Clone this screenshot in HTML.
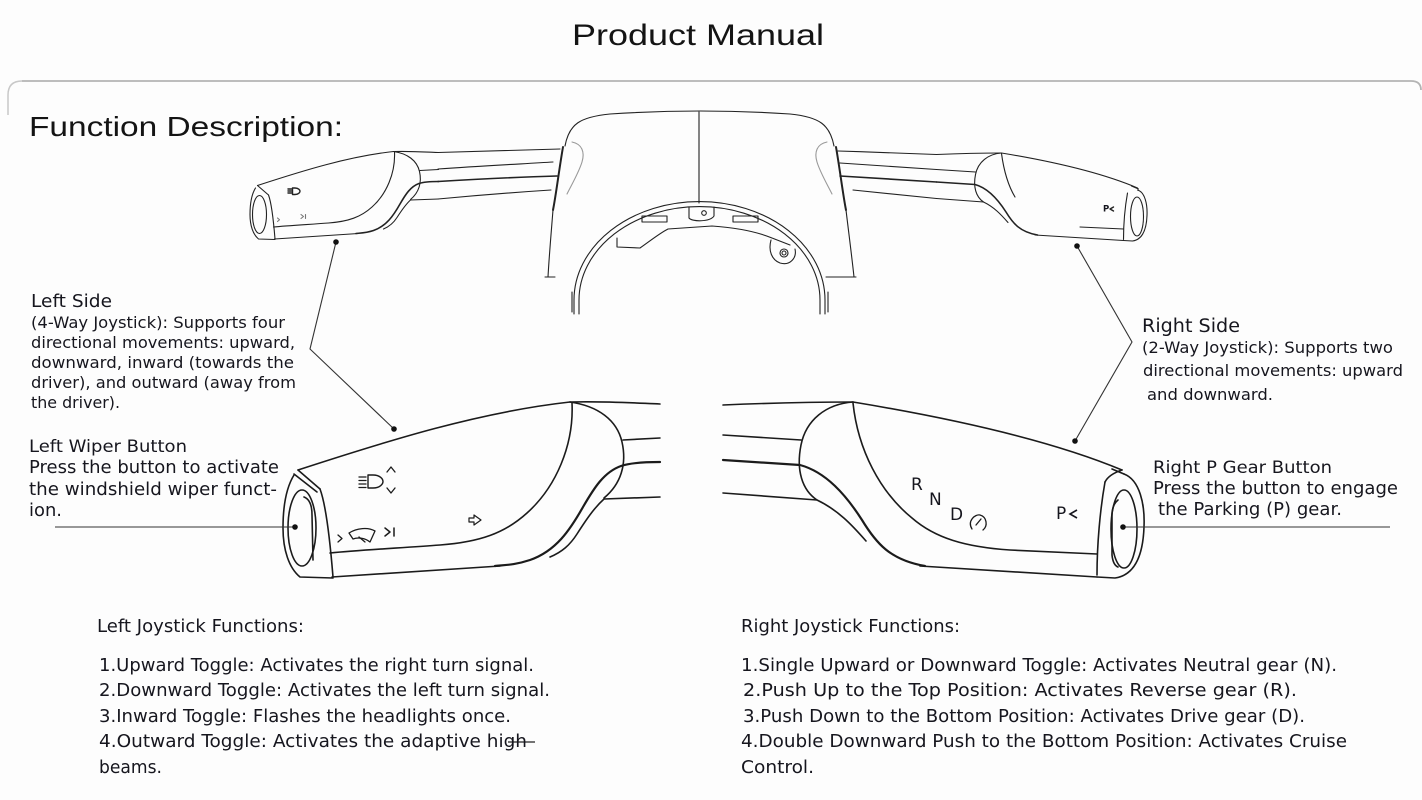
<!DOCTYPE html>
<html><head><meta charset="utf-8">
<style>
html,body{margin:0;padding:0;background:#fdfdfd;}
svg{display:block}
.t{font-family:"DejaVu Sans",sans-serif;fill:#16161e}
.h{font-family:"Liberation Sans",sans-serif;fill:#141414}
</style></head><body>
<svg width="1422" height="800" viewBox="0 0 1422 800" xmlns="http://www.w3.org/2000/svg">
<rect width="1422" height="800" fill="#fdfdfd"/>

<!-- Title -->
<text class="h" x="572" y="45" font-size="30" textLength="252" lengthAdjust="spacingAndGlyphs">Product Manual</text>

<!-- panel border -->
<path d="M22,81 L1411,81 Q1421,81 1421,90" fill="none" stroke="#b4b4b4" stroke-width="1.8"/>
<path d="M8,115 L8,95 Q8,81 22,81" fill="none" stroke="#c8c8c8" stroke-width="1.5"/>

<text class="h" x="29" y="136" font-size="28" textLength="314" lengthAdjust="spacingAndGlyphs">Function Description:</text>

<!-- ============ SHROUD ============ -->
<g fill="none" stroke="#222" stroke-width="1.1" stroke-linecap="round" stroke-linejoin="round">
  <path d="M565,146 C569,124 580,117 610,114 Q700,108 790,114 C820,117 830,125 834,146"/>
  <path d="M563,147 C559,170 556,195 553,210" stroke-width="2"/>
  <path d="M553,210 C551,235 549,258 548,277"/>
  <path d="M545,277 L555,277"/>
  <path d="M836,147 C840,170 843,195 846,210" stroke-width="2"/>
  <path d="M846,210 C849,235 852,258 854,277"/>
  <path d="M826,277 L856,277"/>
  <path d="M572,142 C582,144 585,152 582,162 C579,172 572,184 567,194" stroke="#999"/>
  <path d="M827,142 C817,144 814,152 817,162 C820,172 827,184 832,194" stroke="#999"/>
  <path d="M699,112 L699,203"/>
  <path d="M574,314 L574,300 A125,98 0 0 1 825,300 L825,314"/>
  <path d="M579,314 L579,300 A120,93 0 0 1 820,300 L820,314"/>
  <path d="M572,292 L572,312 M828,292 L828,312"/>
  <rect x="642" y="216" width="25" height="6"/>
  <rect x="733" y="216" width="25" height="6"/>
  <path d="M689,207 L689,218 C692,222 710,222 714,216 L714,207"/>
  <circle cx="704" cy="213" r="2.3"/>
  <path d="M617,238 L617,247 L640,248 C650,241 660,233 668,229 L712,226 C740,228 760,233 772,238 L790,245"/>
  <path d="M771,240 C768,251 772,260 780,263 C790,266 797,258 795,249"/>
  <circle cx="784" cy="253" r="4"/>
  <circle cx="784" cy="253" r="2"/>
</g>

<!-- ============ BOTTOM LEFT STALK ============ -->
<g>
<g fill="none" stroke="#1b1b1b" stroke-width="1.6" stroke-linecap="round" stroke-linejoin="round">
  <path d="M298,470 C390,440 480,412 570,402"/>
  <path d="M570,402 C605,401 635,403 660,404"/>
  <path d="M570,402 C598,406 617,420 622,442 C627,464 621,484 604,498"/>
  <path d="M623,440 L660,438"/>
  <path stroke-width="2.2" d="M660,462 C645,462 630,463 621,466 C604,472 594,488 583,507 C570,530 556,551 530,560 C515,565 505,565 495,566"/>
  <path d="M660,497 L604,499 C594,508 586,520 577,534 C570,545 562,552 550,557"/>
  <path d="M572,403 C574,445 556,487 527,513 C505,533 480,542 440,545 C400,548 360,550 330,553"/>
  <path d="M332,577 C400,573 450,569 500,566"/>
  <path d="M298,470 L320,489"/>
  <path d="M294,474 L317,492"/>
  <path d="M320,489 C326,505 330,540 333,577"/>
  <path d="M294,475 C286,488 283,508 283,528 C283,550 289,568 300,577 L333,578"/>
  <ellipse cx="302" cy="528" rx="14" ry="38"/>
  <path d="M304,497 Q312,500 312,515 L313,560"/>
  <!-- headlight icon -->
  <path d="M359,477 L366,477 M359,480.5 L366,480.5 M359,484 L366,484 M359,487.5 L366,487.5" stroke-width="1.3"/>
  <path d="M368,475 L373,475 C380,475 383,479 383,481.5 C383,484 380,488 373,488 L368,488 Z" stroke-width="1.4"/>
  <path d="M387,472 L391,467 L395,472" stroke-width="1.3"/>
  <path d="M387,488 L391,493 L395,488" stroke-width="1.3"/>
  <!-- wiper icons -->
  <path d="M338,535 L342,538.5 L338,542" stroke-width="1.3"/>
  <path d="M349,533 C357,528 368,527 375,531 L370,542 C365,538 358,537 353,539 Z" stroke-width="1.3"/>
  <path d="M359,537 L365,542" stroke-width="1.3"/>
  <path d="M385,528 L390,532 L385,536 M394,528 L394,536" stroke-width="1.5"/>
  <path d="M469,518 L474,518 L474,515 L481,520 L474,525 L474,522 L469,522 Z" stroke-width="1.2"/>
</g>
</g>

<!-- ============ BOTTOM RIGHT STALK ============ -->
<g>
<g fill="none" stroke="#1b1b1b" stroke-width="1.6" stroke-linecap="round" stroke-linejoin="round">
  <path d="M723,405 C770,403 815,402 853,402"/>
  <path d="M853,402 C950,418 1050,440 1122,470"/>
  <path d="M853,402 C826,404 806,420 801,445 C796,470 802,490 817,500"/>
  <path d="M723,435 L801,440"/>
  <path stroke-width="2.2" d="M723,460 L800,465 C826,472 846,495 862,520 C876,543 890,560 925,566"/>
  <path d="M723,493 L817,500 C838,510 852,525 866,541"/>
  <path d="M853,403 C858,450 880,492 912,518 C935,538 965,547 1010,550 L1097,554"/>
  <path d="M920,566 C980,570 1040,574 1097,577"/>
  <path d="M1112,469 L1124,474"/>
  <path d="M1122,470 C1116,472 1108,476 1105,482"/>
  <path d="M1105,482 C1100,510 1097,545 1097,575"/>
  <path d="M1124,474 C1140,480 1145,505 1144,527 C1143,555 1135,575 1115,578 L1097,577"/>
  <ellipse cx="1124" cy="529" rx="13" ry="39"/>
  <path d="M1118,500 Q1112,505 1112,515 L1112,555 Q1113,565 1118,567"/>
  <path d="M972,529 C967,521 975,514 980,515 C987,517 988,526 983,530" stroke-width="1.3"/>
  <path d="M976,525 L981,519" stroke-width="1.3"/>
</g>
<g class="t" font-size="17">
  <text x="911" y="490">R</text>
  <text x="929" y="505">N</text>
  <text x="950" y="520">D</text>
  <text x="1056" y="519">P</text>
</g>
<path d="M1077,510 L1070,514 L1077,518" fill="none" stroke="#16161e" stroke-width="1.6"/>
</g>

<!-- ============ TOP LEFT STALK (scaled) ============ -->
<g transform="translate(108.5,-49.5) scale(0.5)">
<g fill="none" stroke="#222" stroke-width="1.1" stroke-linecap="round" stroke-linejoin="round">
  <path vector-effect="non-scaling-stroke" d="M298,470 C390,440 480,412 570,402"/>
  <path vector-effect="non-scaling-stroke" d="M570,402 C605,401 635,403 660,404"/>
  <path vector-effect="non-scaling-stroke" d="M570,402 C598,406 617,420 622,442 C627,464 621,484 604,498"/>
  <path vector-effect="non-scaling-stroke" d="M623,440 L660,438"/>
  <path vector-effect="non-scaling-stroke" stroke-width="1.6" d="M660,462 C645,462 630,463 621,466 C604,472 594,488 583,507 C570,530 556,551 530,560 C515,565 505,565 495,566"/>
  <path vector-effect="non-scaling-stroke" d="M660,497 L604,499 C594,508 586,520 577,534 C570,545 562,552 550,557"/>
  <path vector-effect="non-scaling-stroke" d="M572,403 C574,445 556,487 527,513 C505,533 480,542 440,545 C400,548 360,550 330,553"/>
  <path vector-effect="non-scaling-stroke" d="M332,577 C400,573 450,569 500,566"/>
  <path vector-effect="non-scaling-stroke" d="M298,470 L320,489"/>
  <path vector-effect="non-scaling-stroke" d="M320,489 C326,505 330,540 333,577"/>
  <path vector-effect="non-scaling-stroke" d="M294,475 C286,488 283,508 283,528 C283,550 289,568 300,577 L333,578"/>
  <ellipse vector-effect="non-scaling-stroke" cx="302" cy="528" rx="14" ry="38"/>
  <path vector-effect="non-scaling-stroke" d="M368,475 L373,475 C380,475 383,479 383,481.5 C383,484 380,488 373,488 L368,488 Z" stroke-width="1.4"/>
  <path vector-effect="non-scaling-stroke" d="M359,477 L366,477 M359,481 L366,481 M359,485 L366,485" stroke-width="1.4"/>
  <path vector-effect="non-scaling-stroke" d="M338,535 L342,538.5 L338,542 M385,528 L390,532 L385,536 M394,528 L394,536" stroke="#777"/>
</g>
</g>
<g fill="none" stroke="#222" stroke-width="1.1" stroke-linecap="round">
  <path d="M438,152.5 C480,151 520,150 560,149"/>
  <path d="M438,169 C480,166 520,164 553,162"/>
  <path d="M438,181.5 C480,179 520,177 557,176" stroke-width="1.6"/>
  <path d="M438,199 C480,195 520,192 551,190"/>
</g>

<!-- ============ TOP RIGHT STALK (scaled) ============ -->
<g transform="translate(575,-48) scale(0.5)">
<g fill="none" stroke="#222" stroke-width="1.1" stroke-linecap="round" stroke-linejoin="round">
  <path vector-effect="non-scaling-stroke" d="M723,405 C770,403 815,402 853,402"/>
  <path vector-effect="non-scaling-stroke" d="M853,402 C950,418 1050,440 1125,472"/>
  <path vector-effect="non-scaling-stroke" d="M853,402 C826,404 806,420 801,445 C796,470 802,490 817,500"/>
  <path vector-effect="non-scaling-stroke" d="M723,435 L801,440"/>
  <path vector-effect="non-scaling-stroke" stroke-width="1.6" d="M723,460 L800,465 C826,472 846,495 862,520 C876,543 890,560 925,566"/>
  <path vector-effect="non-scaling-stroke" d="M723,493 L817,500 C838,510 852,525 866,541"/>
  <path vector-effect="non-scaling-stroke" d="M853,403 C858,440 868,470 880,490"/>
  <path vector-effect="non-scaling-stroke" d="M1010,550 L1097,554"/>
  <path vector-effect="non-scaling-stroke" d="M920,566 C980,570 1040,574 1097,577"/>
  <path vector-effect="non-scaling-stroke" d="M1113,468 L1127,474"/>
  <path vector-effect="non-scaling-stroke" d="M1105,482 C1100,510 1097,545 1097,575"/>
  <path vector-effect="non-scaling-stroke" d="M1125,476 C1140,480 1145,505 1144,527 C1143,555 1135,575 1115,578 L1097,577"/>
  <ellipse vector-effect="non-scaling-stroke" cx="1124" cy="529" rx="13" ry="39"/>
  <path vector-effect="non-scaling-stroke" d="M1077,510 L1070,514 L1077,518" stroke-width="1.4"/>
</g>
<text class="t" x="1056" y="519" font-size="17" font-weight="bold">P</text>
</g>
<g fill="none" stroke="#222" stroke-width="1.1" stroke-linecap="round">
  <path d="M936.5,154.5 C900,153 870,152 838,151"/>
  <path d="M936.5,169.5 C900,167 870,165 840,163"/>
  <path d="M936.5,182 C900,180 870,178 840,176" stroke-width="1.6"/>
  <path d="M936.5,198.5 C900,195 875,192 853,190"/>
</g>

<!-- ============ CONNECTORS ============ -->
<g fill="none" stroke="#333" stroke-width="1.1">
  <path d="M336,242 L310,349 L394,429"/>
  <path d="M55,527 L295,527"/>
  <path d="M1077,246 L1132,342 L1075,441"/>
  <path d="M1123,527 L1390,527"/>
  <path d="M508,742 L535,742" stroke="#222" stroke-width="1.2"/>
</g>
<g fill="#111">
  <circle cx="336" cy="242" r="2.8"/>
  <circle cx="394" cy="429" r="2.8"/>
  <circle cx="295" cy="527" r="2.8"/>
  <circle cx="1077" cy="246" r="2.8"/>
  <circle cx="1075" cy="441" r="2.8"/>
  <circle cx="1123" cy="527" r="2.8"/>
</g>

<!-- ============ SIDE TEXT ============ -->
<g class="t">
  <text x="31" y="307" font-size="18" textLength="81" lengthAdjust="spacingAndGlyphs">Left Side</text>
  <text x="31" y="328" font-size="16" textLength="254" lengthAdjust="spacingAndGlyphs">(4-Way Joystick): Supports four</text>
  <text x="31" y="348" font-size="16" textLength="264" lengthAdjust="spacingAndGlyphs">directional movements: upward,</text>
  <text x="31" y="368" font-size="16" textLength="263" lengthAdjust="spacingAndGlyphs">downward, inward (towards the</text>
  <text x="31" y="388" font-size="16" textLength="265" lengthAdjust="spacingAndGlyphs">driver), and outward (away from</text>
  <text x="31" y="408" font-size="16" textLength="89" lengthAdjust="spacingAndGlyphs">the driver).</text>

  <text x="29" y="452" font-size="17" textLength="158" lengthAdjust="spacingAndGlyphs">Left Wiper Button</text>
  <text x="29" y="473" font-size="17.5" textLength="250" lengthAdjust="spacingAndGlyphs">Press the button to activate</text>
  <text x="29" y="495" font-size="17.5" textLength="248" lengthAdjust="spacingAndGlyphs">the windshield wiper funct-</text>
  <text x="29" y="516" font-size="17.5" textLength="33" lengthAdjust="spacingAndGlyphs">ion.</text>

  <text x="1142" y="332" font-size="18.5" textLength="98" lengthAdjust="spacingAndGlyphs">Right Side</text>
  <text x="1142" y="353" font-size="16" textLength="251" lengthAdjust="spacingAndGlyphs">(2-Way Joystick): Supports two</text>
  <text x="1143" y="376" font-size="16" textLength="260" lengthAdjust="spacingAndGlyphs">directional movements: upward</text>
  <text x="1147" y="400" font-size="16" textLength="126" lengthAdjust="spacingAndGlyphs">and downward.</text>

  <text x="1153" y="473" font-size="17" textLength="179" lengthAdjust="spacingAndGlyphs">Right P Gear Button</text>
  <text x="1153" y="494" font-size="17.5" textLength="245" lengthAdjust="spacingAndGlyphs">Press the button to engage</text>
  <text x="1158" y="515" font-size="17.5" textLength="184" lengthAdjust="spacingAndGlyphs">the Parking (P) gear.</text>
</g>

<!-- ============ BOTTOM LISTS ============ -->
<g class="t" font-size="17.5">
  <text x="97" y="632" textLength="207" lengthAdjust="spacingAndGlyphs">Left Joystick Functions:</text>
  <text x="99" y="671" textLength="435" lengthAdjust="spacingAndGlyphs">1.Upward Toggle: Activates the right turn signal.</text>
  <text x="99" y="696" textLength="451" lengthAdjust="spacingAndGlyphs">2.Downward Toggle: Activates the left turn signal.</text>
  <text x="99" y="722" textLength="412" lengthAdjust="spacingAndGlyphs">3.Inward Toggle: Flashes the headlights once.</text>
  <text x="99" y="747" textLength="428" lengthAdjust="spacingAndGlyphs">4.Outward Toggle: Activates the adaptive high</text>
  <text x="99" y="773" textLength="63" lengthAdjust="spacingAndGlyphs">beams.</text>

  <text x="741" y="632" textLength="219" lengthAdjust="spacingAndGlyphs">Right Joystick Functions:</text>
  <text x="741" y="671" textLength="596" lengthAdjust="spacingAndGlyphs">1.Single Upward or Downward Toggle: Activates Neutral gear (N).</text>
  <text x="743" y="696" textLength="554" lengthAdjust="spacingAndGlyphs">2.Push Up to the Top Position: Activates Reverse gear (R).</text>
  <text x="743" y="722" textLength="562" lengthAdjust="spacingAndGlyphs">3.Push Down to the Bottom Position: Activates Drive gear (D).</text>
  <text x="741" y="747" textLength="606" lengthAdjust="spacingAndGlyphs">4.Double Downward Push to the Bottom Position: Activates Cruise</text>
  <text x="741" y="773" textLength="73" lengthAdjust="spacingAndGlyphs">Control.</text>
</g>
</svg>
</body></html>
